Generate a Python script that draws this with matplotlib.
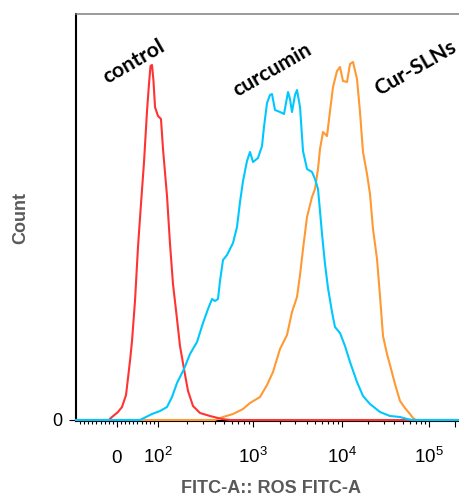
import matplotlib
matplotlib.use('Agg')
import matplotlib.pyplot as plt
import numpy as np

plt.rcParams['font.family'] = ['Liberation Sans', 'DejaVu Sans']
plt.rcParams['mathtext.fontset'] = 'custom'
plt.rcParams['mathtext.rm'] = 'Liberation Sans'
plt.rcParams['mathtext.it'] = 'Liberation Sans:italic'

# histogram traces (FITC-A intensity, count)
control_x = [-100, -20.0, -12.2, 2.4, 12.2, 22.0, 31.7, 36.6, 43.9, 51.2, 58.5, 65.9, 73.2,
             78.0, 81.7, 85.4, 89.0, 92.7, 100, 107.5, 112.9, 124.4, 133.8, 143.8, 158.5,
             170.4, 187.8, 207.0, 233.6, 276.8, 352.6, 471.8, 572.9, 262144]
control_count = [0, 0, 3, 8, 13, 25, 59, 79, 119, 173, 216, 258, 309,
                 336, 354, 355, 339, 313, 304, 301, 271, 224, 176, 136, 101,
                 74, 51, 29, 14, 7, 4, 1, 0, 0]

curcumin_x = [-100, 56.1, 70.7, 85.4, 105.0, 124.4, 140.4, 158.5, 187.8, 217.2, 257.3, 297.7,
              336.0, 370.2, 398.1, 428.1, 449.3, 483.3, 532.4, 615.9, 678.6, 729.9, 785.0,
              864.8, 930.0, 1000, 1138, 1262, 1329, 1437, 1552, 1635, 1767, 2011, 2230, 2474,
              2605, 2743, 2964, 3122, 3375, 3646, 4044, 4602, 4973, 5375, 5659, 5962, 6442,
              6961, 7720, 8342, 9495, 10826, 12360, 14870, 17434, 20978, 27340, 35620, 46420,
              55860, 63770, 262144]
curcumin_count = [0, 0, 3, 6, 9, 13, 23, 37, 51, 66, 78, 97,
                  111, 121, 119, 121, 139, 160, 165, 177, 193, 218, 239,
                  259, 268, 258, 262, 274, 293, 317, 325, 326, 310, 308, 306, 328,
                  321, 308, 325, 330, 313, 269, 251, 248, 241, 231, 209, 186, 156,
                  132, 108, 93, 87, 74, 58, 38, 24, 16, 8, 4, 3,
                  1, 0, 0]

cur_sln_x = [-100, 398.1, 483.3, 615.9, 785.0, 930.0, 1198, 1437, 1677, 2011, 2410, 2743, 3122,
             3375, 3646, 4044, 4602, 4973, 5375, 5659, 6117, 6786, 7334, 7925, 8787, 9495,
             10268, 11415, 12360, 13379, 14870, 16100, 17434, 19385, 20978, 22715, 25255,
             27340, 29600, 32910, 35620, 40660, 46420, 52980, 60460, 65480, 70890, 262144]
cur_sln_count = [0, 0, 3, 6, 11, 17, 23, 35, 48, 71, 85, 108, 123,
                 145, 171, 203, 223, 231, 251, 271, 288, 284, 309, 333, 349, 353,
                 339, 338, 356, 358, 341, 308, 268, 246, 226, 191, 161,
                 124, 84, 66, 55, 36, 19, 12, 6, 2, 0, 0]

names = ['control', 'curcumin', 'Cur-SLNs']
colors = ['#FF3333', '#00C8FF', '#FF9933']

tick_vals = [0, 1e2, 1e3, 1e4, 1e5]
tick_text = ['0', r'$\mathrm{10^{2}}$', r'$\mathrm{10^{3}}$', r'$\mathrm{10^{4}}$', r'$\mathrm{10^{5}}$']

# biexponential-like display: linear around zero, log above 100
LIN_W = 0.41
DEC_LOG = np.array([2.0, 3.0, 4.0, 5.0, np.log10(262144)])
DEC_POS = np.array([41.0, 136.0, 225.0, 312.0, 348.4])


def biex_fwd(v):
    v = np.asarray(v, dtype=float)
    a = np.abs(v)
    lg = np.log10(np.maximum(a, 100.0))
    out = np.where(a <= 100, a * LIN_W, np.interp(lg, DEC_LOG, DEC_POS))
    return np.sign(v) * out


def biex_inv(p):
    p = np.asarray(p, dtype=float)
    a = np.abs(p)
    out = np.where(a <= 41, a / LIN_W, 10 ** np.interp(a, DEC_POS, DEC_LOG))
    return np.sign(p) * out


fig = plt.figure(figsize=(4.6, 4.96), dpi=100)
ax = fig.add_axes([76 / 460, 1 - 421 / 496, 389.4 / 460, 407 / 496])
ax.set_xscale('function', functions=(biex_fwd, biex_inv))

ax.plot(cur_sln_x, cur_sln_count, color=colors[2], lw=1.5, zorder=3, clip_on=False)
ax.plot(control_x, control_count, color=colors[0], lw=1.5, zorder=4, clip_on=False)
ax.plot(curcumin_x, curcumin_count, color=colors[1], lw=1.5, zorder=5, clip_on=False)

ax.set_xlim(-100, 262144)
ax.set_ylim(-1, 406)

ax.spines['right'].set_visible(False)
ax.spines['top'].set_color('#808080')
ax.spines['top'].set_linewidth(1.1)
ax.spines['left'].set_linewidth(1.5)
ax.spines['bottom'].set_linewidth(1.5)

minor = [-90, -80, -70, -60, -50, -40, -30, -20, -10, 10, 20, 30, 40, 50, 60, 70, 80, 90]
for dec in [1e2, 1e3, 1e4]:
    minor += [k * dec for k in range(2, 10)]
ax.set_xticks(tick_vals + [2e5], tick_text + [''])
ax.set_xticks(minor, minor=True)
ax.tick_params(axis='x', which='major', length=4.3, width=0.8, pad=25.9, labelsize=13.5)
ax.tick_params(axis='x', which='minor', length=2.3, width=0.8)
plt.setp(ax.get_xticklabels(), va='baseline')

ax.set_yticks([0], ['0'])
ax.tick_params(axis='y', which='major', length=5, width=0.8, pad=5, labelsize=13)

ax.set_xlabel('FITC-A:: ROS FITC-A', fontsize=13, fontweight='bold', color='#595959')
ax.xaxis.set_label_coords(0.502, -0.165)
ax.xaxis.label.set_va('center')
ax.set_ylabel('Count', fontsize=13, fontweight='bold', color='#595959')
ax.yaxis.set_label_coords(-0.142, 0.5)
ax.yaxis.label.set_va('center')

label_pos = [(0.149, 0.882), (0.503, 0.862), (0.871, 0.867)]
for name, (lx, ly) in zip(names, label_pos):
    ax.text(lx, ly, name, transform=ax.transAxes, rotation=30, ha='center', va='center',
            fontsize=15.3, fontweight='bold', family=['Lato', 'DejaVu Sans'])

fig.savefig('out.png', dpi=100)
